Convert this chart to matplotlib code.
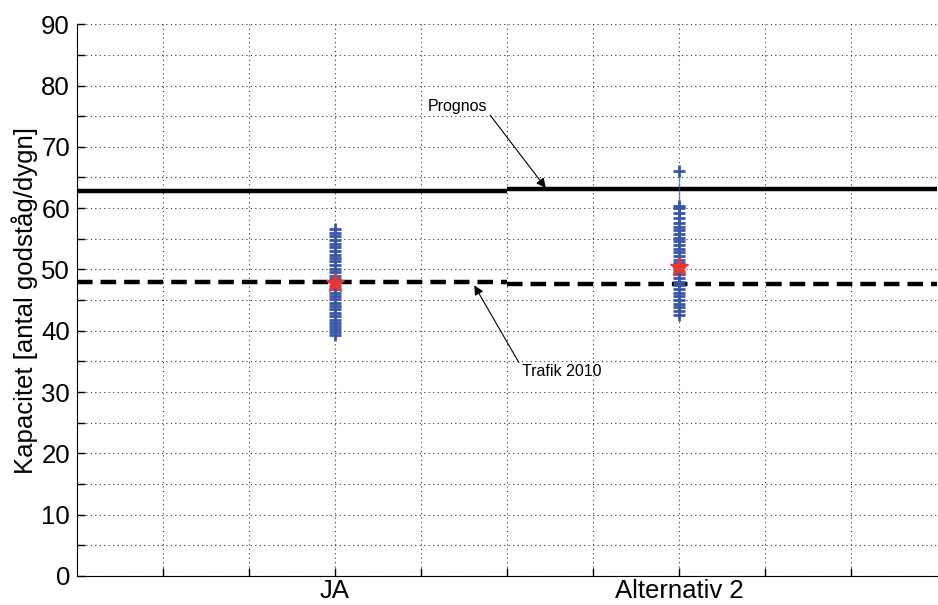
import numpy as np
import matplotlib.pyplot as plt
from matplotlib.ticker import MultipleLocator

plt.rcParams['font.family'] = ['Liberation Sans', 'DejaVu Sans']

# Kapacitet per simulering
ja_x = 3
ja_vals = [39.3, 39.8, 40.3, 40.8, 41.3, 41.8, 42.4, 42.9, 43.5, 44.0, 44.6, 45.1,
           45.7, 46.2, 46.8, 47.3, 47.9, 48.4, 49.0, 49.6, 50.1, 50.7, 51.3, 51.8,
           52.4, 53.0, 53.6, 54.2, 54.8, 55.4, 56.0, 56.6]
ja_median = 47.8

alt_x = 7
alt_vals = [42.6, 43.2, 43.8, 44.4, 45.0, 45.6, 46.2, 46.8, 47.4, 48.0, 48.6, 49.2,
            49.8, 50.4, 51.0, 51.6, 52.2, 52.8, 53.4, 54.0, 54.6, 55.2, 55.8, 56.4,
            57.0, 57.6, 58.4, 59.2, 60.0, 60.4, 66.0]
alt_median = 50.4

# Prognos och Trafik 2010 (vänster/höger halva)
prognos = [62.8, 63.1]
trafik = [47.9, 47.7]
halves = [(0, 5), (5, 10)]

fig = plt.figure(figsize=(9.38, 6.05), dpi=100)
ax = fig.add_axes([0.082, 0.048, 0.917, 0.912])

for (x0, x1), p, t in zip(halves, prognos, trafik):
    ax.plot([x0, x1], [p, p], color='k', lw=3.2, solid_capstyle='butt')
    ax.plot([x0, x1], [t, t], color='k', lw=3.2, ls=(0, (3.5, 1.8)))

blue = '#3a56a8'
ax.plot([ja_x] * len(ja_vals), ja_vals, color=blue, lw=1, alpha=0.7)
ax.plot([ja_x] * len(ja_vals), ja_vals, ls='none', marker='+', ms=8, mew=2, color=blue)
ax.plot([alt_x] * len(alt_vals), alt_vals, color=blue, lw=1, alpha=0.7)
ax.plot([alt_x] * len(alt_vals), alt_vals, ls='none', marker='+', ms=8, mew=2, color=blue)
ax.plot([ja_x, alt_x], [ja_median, alt_median], ls='none', marker='*', ms=14,
        color='#ee3333', mec='#ee3333')

ax.annotate('Prognos', xy=(5.45, 63.3), xytext=(4.08, 76.5), fontsize=11.5,
            va='center', ha='left',
            arrowprops=dict(arrowstyle='-|>', color='k', lw=0.8, shrinkA=0, shrinkB=0,
                            mutation_scale=14, relpos=(1.0, 0.2)))
ax.annotate('Trafik 2010', xy=(4.62, 47.4), xytext=(5.17, 33.3), fontsize=11.5,
            va='center', ha='left',
            arrowprops=dict(arrowstyle='-|>', color='k', lw=0.8, shrinkA=0, shrinkB=0,
                            mutation_scale=14, relpos=(0.0, 0.8)))

ax.set_xlim(0, 10)
ax.set_ylim(0, 90)
ax.set_xticks(range(1, 10))
ax.set_xticklabels(['' if i not in (ja_x, alt_x) else ('JA' if i == ja_x else 'Alternativ 2')
                    for i in range(1, 10)])
ax.yaxis.set_major_locator(MultipleLocator(10))
ax.yaxis.set_minor_locator(MultipleLocator(5))
ax.tick_params(axis='both', which='both', direction='in', labelsize=18.5, length=6, width=1)
ax.tick_params(axis='x', pad=2)
ax.tick_params(axis='y', pad=5)
ax.grid(True, which='both', color='k', ls=(0, (1, 3)), lw=0.8, alpha=0.8)
ax.spines['top'].set_visible(False)
ax.spines['right'].set_visible(False)
ax.set_ylabel('Kapacitet [antal godståg/dygn]', fontsize=18.5, labelpad=2)

plt.savefig('out.png', dpi=100)
